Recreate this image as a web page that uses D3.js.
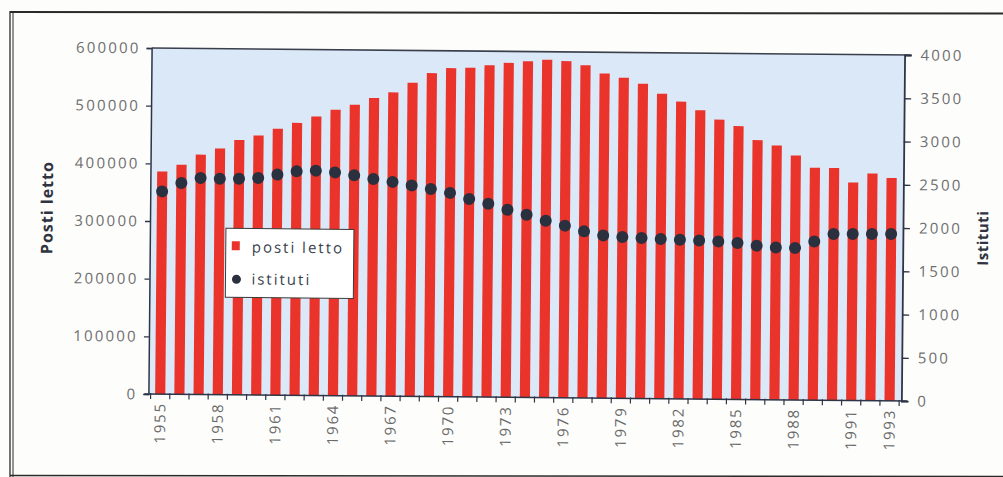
<!DOCTYPE html>
<html>
<head>
<meta charset="utf-8">
<script src="https://cdn.jsdelivr.net/npm/d3@7/dist/d3.min.js"></script>
<style>
  html, body { margin: 0; padding: 0; background: #fdfdfc; }
  svg { display: block; }
  text { font-family: "Open Sans", "DejaVu Sans", sans-serif; }
</style>
</head>
<body>
<svg id="chart" width="1003" height="477"></svg>
<script>
// Hospital beds (posti letto) and institutions (istituti), 1955-1993
const years = ["1955","1956","1957","1958","1959","1960","1961","1962","1963","1964",
  "1965","1966","1967","1968","1969","1970","1971","1972","1973","1974",
  "1975","1976","1977","1978","1979","1980","1981","1982","1983","1984",
  "1985","1986","1987","1988","1989","1990","1991","1992","1993"];

const postiLetto = [386000, 398000, 416000, 427000, 442000, 450000, 462000, 472500, 484000, 496000,
  505000, 517000, 527000, 544000, 561000, 570000, 571000, 575500, 580000, 583000,
  586000, 584000, 577000, 563000, 556000, 546000, 529000, 515500, 501000, 485000,
  474000, 450000, 441000, 424000, 403000, 403000, 378000, 394000, 386500];

const istituti = [2344, 2443, 2503, 2497, 2499, 2509, 2550, 2590, 2600, 2582,
  2550, 2510, 2478, 2440, 2400, 2357, 2289, 2236, 2169, 2113,
  2046, 1991, 1927, 1882, 1866, 1856, 1847, 1840, 1834, 1825,
  1809, 1780, 1761, 1757, 1835, 1923, 1926, 1927, 1929];

const yearLabels = ["1955","1958","1961","1964","1967","1970","1973","1976","1979","1982","1985","1988","1991","1993"];
const leftTicks = [0, 100000, 200000, 300000, 400000, 500000, 600000];
const rightTicks = [0, 500, 1000, 1500, 2000, 2500, 3000, 3500, 4000];

const svg = d3.select("#chart");

// outer frame
const frame = svg.append("g").attr("stroke", "#2a2a2a").attr("fill", "none");
frame.append("line").attr("x1", 10).attr("x2", 1003).attr("y1", 12).attr("y2", 13.5).attr("stroke-width", 2);
frame.append("line").attr("x1", 10).attr("x2", 10).attr("y1", 11).attr("y2", 477).attr("stroke-width", 1.3);
frame.append("line").attr("x1", 13).attr("x2", 13).attr("y1", 13).attr("y2", 477).attr("stroke-width", 1);
frame.append("line").attr("x1", 10).attr("x2", 1003).attr("y1", 475.5).attr("y2", 476.5).attr("stroke-width", 1.3);

const plot = { left: 150, right: 903, top: 51.5, bottom: 397.5 };

const g = svg.append("g").attr("transform", "rotate(0.53, 526, 224)");

const x = d3.scaleBand().domain(years).range([plot.left, plot.right])
  .paddingInner(0.47).paddingOuter(0.35);
const yL = d3.scaleLinear().domain([0, 600000]).range([plot.bottom, plot.top]);
const yR = d3.scaleLinear().domain([0, 4000]).range([plot.bottom, plot.top]);

// plot background
g.append("rect")
  .attr("x", plot.left).attr("y", plot.top)
  .attr("width", plot.right - plot.left).attr("height", plot.bottom - plot.top)
  .attr("fill", "#dbe8f7");

// bars
g.append("g").selectAll("rect").data(years).join("rect")
  .attr("x", d => x(d))
  .attr("width", x.bandwidth())
  .attr("y", (d, i) => yL(postiLetto[i]))
  .attr("height", (d, i) => yL(0) - yL(postiLetto[i]))
  .attr("fill", "#ea332b");

// top border
g.append("line")
  .attr("x1", plot.left).attr("x2", plot.right + 7)
  .attr("y1", plot.top).attr("y2", plot.top)
  .attr("stroke", "#3a3f4c").attr("stroke-width", 1.6);

// left axis
const leftAxis = g.append("g")
  .attr("transform", `translate(${plot.left},0)`)
  .call(d3.axisLeft(yL).tickValues(leftTicks).tickFormat(d3.format("d")).tickSize(5).tickPadding(6));
leftAxis.select(".domain").attr("stroke", "#2e3547").attr("stroke-width", 1.5);
leftAxis.selectAll(".tick line").attr("stroke", "#2e3547").attr("stroke-width", 1.3);
leftAxis.selectAll(".tick text")
  .attr("fill", "#6e6e6e").style("font-size", "15px").style("letter-spacing", "2.2px")
  .style("font-family", "'Open Sans', sans-serif");

// right axis
const rightAxis = g.append("g")
  .attr("transform", `translate(${plot.right},0)`)
  .call(d3.axisRight(yR).tickValues(rightTicks).tickFormat(d3.format("d")).tickSize(7).tickPadding(9));
rightAxis.select(".domain").attr("stroke", "#2e3547").attr("stroke-width", 1.8);
rightAxis.selectAll(".tick line").attr("stroke", "#2e3547").attr("stroke-width", 1.3);
rightAxis.selectAll(".tick text")
  .attr("fill", "#6e6e6e").style("font-size", "15px").style("letter-spacing", "2.2px")
  .style("font-family", "'Open Sans', sans-serif");

// bottom axis line with ticks between categories
g.append("line")
  .attr("x1", plot.left - 4).attr("x2", plot.right + 6)
  .attr("y1", plot.bottom).attr("y2", plot.bottom)
  .attr("stroke", "#2e3547").attr("stroke-width", 1.5);
const step = x.step();
const boundaries = years.map(d => x(d) + x.bandwidth() / 2 - step / 2).concat([x(years[years.length - 1]) + x.bandwidth() / 2 + step / 2]);
g.append("g").selectAll("line").data(boundaries).join("line")
  .attr("x1", d => d).attr("x2", d => d)
  .attr("y1", plot.bottom - 1).attr("y2", plot.bottom + 5)
  .attr("stroke", "#2e3547").attr("stroke-width", 1.2);

// year labels
g.append("g").selectAll("text").data(yearLabels).join("text")
  .attr("transform", d => `translate(${x(d) + x.bandwidth() / 2},${plot.bottom + 8}) rotate(-90)`)
  .attr("text-anchor", "end")
  .attr("dy", "0.35em")
  .attr("fill", "#6a6a6a")
  .style("font-size", "15px")
  .style("letter-spacing", "1.8px")
  .text(d => d);

// institution dots
g.append("g").selectAll("circle").data(years).join("circle")
  .attr("cx", d => x(d) + x.bandwidth() / 2)
  .attr("cy", (d, i) => yR(istituti[i]))
  .attr("r", 6)
  .attr("fill", "#2a303e");

// axis titles
g.append("text")
  .attr("transform", "translate(47,212) rotate(-90)")
  .attr("text-anchor", "middle").attr("dy", "0.35em")
  .attr("fill", "#2f3440")
  .style("font-size", "16px").style("font-weight", "700").style("letter-spacing", "1px")
  .text("Posti letto");
g.append("text")
  .attr("transform", "translate(983,234) rotate(-90)")
  .attr("text-anchor", "middle").attr("dy", "0.35em")
  .attr("fill", "#2f3440")
  .style("font-size", "15px").style("font-weight", "700").style("letter-spacing", "0.5px")
  .text("Istituti");

// legend
const legend = g.append("g");
legend.append("rect")
  .attr("x", 226).attr("y", 231).attr("width", 128).attr("height", 69)
  .attr("fill", "#ffffff").attr("stroke", "#3a3a3a").attr("stroke-width", 1);
legend.append("rect")
  .attr("x", 232).attr("y", 244).attr("width", 8).attr("height", 9)
  .attr("fill", "#ea332b");
legend.append("text")
  .attr("x", 252).attr("y", 255)
  .attr("fill", "#3a3f4c").style("font-size", "15px").style("letter-spacing", "2px")
  .text("posti letto");
legend.append("circle")
  .attr("cx", 237).attr("cy", 282).attr("r", 4.5)
  .attr("fill", "#2a303e");
legend.append("text")
  .attr("x", 252).attr("y", 287)
  .attr("fill", "#3a3f4c").style("font-size", "15px").style("letter-spacing", "2px")
  .text("istituti");
</script>
</body>
</html>
